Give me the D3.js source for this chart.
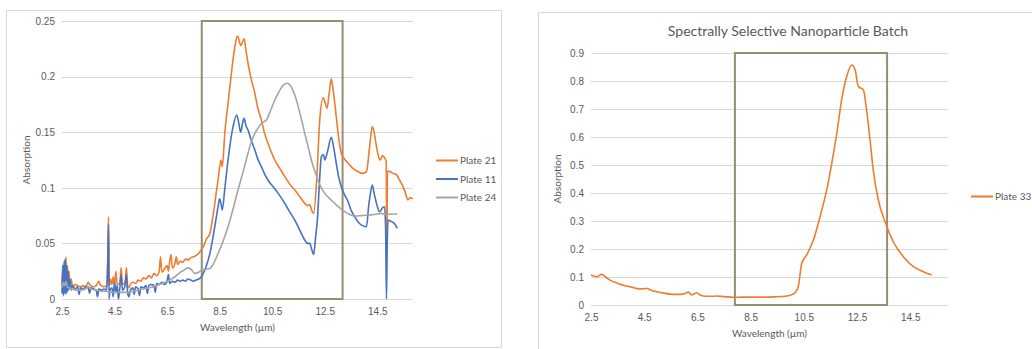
<!DOCTYPE html>
<html>
<head>
<meta charset="utf-8">
<script src="https://cdn.jsdelivr.net/npm/d3@7"></script>
<style>
  body { margin: 0; background: #fff; }
  svg { display: block; font-family: Lato, "Open Sans", sans-serif; }
  .tick text { fill: #595959; font-size: 10px; }
  .grid-line { stroke: #d9d9d9; stroke-width: 1; }
  .axis-title { fill: #595959; font-size: 10px; text-anchor: middle; }
  .chart-title { fill: #595959; font-size: 14px; text-anchor: middle; }
  .legend text { fill: #595959; font-size: 10px; }
  .series { fill: none; stroke-width: 1.6; stroke-linejoin: round; }
  .band { fill: none; stroke: #968e70; stroke-width: 2; }
</style>
</head>
<body>
<svg id="chart" width="1032" height="349"></svg>
<script>

// Data ////////////////////////////////////

const tickWavelengths = [2.5, 4.5, 6.5, 8.5, 10.5, 12.5, 14.5];
const leftYTicks = [0, 0.05, 0.1, 0.15, 0.2, 0.25];
const rightYTicks = [0, 0.1, 0.2, 0.3, 0.4, 0.5, 0.6, 0.7, 0.8, 0.9];

const leftBand = [7.82, 13.18];
const rightBand = [7.91, 13.63];

// [wavelength µm, absorption]
const plate21 = [
  [2.50, 0.012], [2.53, 0.030], [2.56, 0.008], [2.59, 0.035], [2.62, 0.010], [2.65, 0.038],
  [2.68, 0.012], [2.71, 0.030], [2.74, 0.010], [2.77, 0.025], [2.80, 0.012], [2.85, 0.018],
  [2.90, 0.011], [3.00, 0.013], [3.10, 0.012], [3.20, 0.011], [3.30, 0.012], [3.40, 0.011],
  [3.50, 0.015], [3.55, 0.013], [3.60, 0.012], [3.70, 0.011], [3.80, 0.012], [3.90, 0.016],
  [3.95, 0.013], [4.00, 0.012], [4.10, 0.011], [4.20, 0.012], [4.24, 0.035], [4.27, 0.074],
  [4.30, 0.012], [4.35, 0.018], [4.40, 0.013], [4.45, 0.020], [4.50, 0.012], [4.55, 0.025],
  [4.60, 0.013], [4.70, 0.014], [4.75, 0.028], [4.80, 0.013], [4.90, 0.015], [4.95, 0.028],
  [5.00, 0.012], [5.05, 0.010], [5.10, 0.013], [5.20, 0.015], [5.30, 0.014], [5.40, 0.017],
  [5.50, 0.016], [5.60, 0.019], [5.70, 0.018], [5.80, 0.021], [5.90, 0.019], [6.00, 0.023],
  [6.10, 0.021], [6.20, 0.025], [6.25, 0.038], [6.30, 0.024], [6.40, 0.027], [6.50, 0.030],
  [6.55, 0.025], [6.60, 0.034], [6.65, 0.040], [6.70, 0.028], [6.80, 0.032], [6.85, 0.038],
  [6.90, 0.031], [7.00, 0.034], [7.10, 0.033], [7.20, 0.036], [7.30, 0.035], [7.40, 0.037],
  [7.50, 0.038], [7.60, 0.039], [7.70, 0.041], [7.80, 0.044], [7.90, 0.048], [8.00, 0.054],
  [8.13, 0.059], [8.25, 0.075], [8.35, 0.092], [8.44, 0.107], [8.55, 0.125], [8.60, 0.119],
  [8.70, 0.150], [8.82, 0.176], [9.01, 0.215], [9.10, 0.230], [9.18, 0.2365], [9.31, 0.228],
  [9.43, 0.234], [9.50, 0.224], [9.58, 0.212], [9.70, 0.198], [9.84, 0.185], [9.95, 0.172],
  [10.09, 0.161], [10.20, 0.150], [10.34, 0.140], [10.47, 0.132], [10.60, 0.125], [10.80, 0.117],
  [10.98, 0.110], [11.15, 0.104], [11.36, 0.098], [11.55, 0.092], [11.74, 0.086], [11.85, 0.084],
  [11.93, 0.085], [12.00, 0.080], [12.08, 0.077], [12.20, 0.110], [12.31, 0.161], [12.44, 0.181],
  [12.52, 0.176], [12.59, 0.1715], [12.67, 0.185], [12.75, 0.198], [12.82, 0.188], [12.94, 0.164],
  [13.03, 0.145], [13.13, 0.131], [13.25, 0.126], [13.39, 0.122], [13.55, 0.118], [13.77, 0.1145],
  [13.95, 0.113], [14.09, 0.1145], [14.20, 0.135], [14.31, 0.155], [14.38, 0.150], [14.47, 0.137],
  [14.55, 0.128], [14.62, 0.125], [14.70, 0.129], [14.80, 0.126], [14.84, 0.124], [14.86, 0.040],
  [14.89, 0.115], [15.00, 0.1145], [15.10, 0.113], [15.23, 0.112], [15.32, 0.108], [15.42, 0.104],
  [15.55, 0.097], [15.67, 0.089], [15.75, 0.091], [15.86, 0.090]
];

const plate11 = [
  [2.50, 0.005], [2.53, 0.030], [2.55, 0.003], [2.58, 0.033], [2.60, 0.005], [2.63, 0.036],
  [2.65, 0.004], [2.68, 0.030], [2.70, 0.006], [2.73, 0.025], [2.76, 0.008], [2.80, 0.018],
  [2.85, 0.008], [2.90, 0.012], [3.00, 0.009], [3.10, 0.011], [3.15, 0.004], [3.20, 0.010],
  [3.30, 0.009], [3.40, 0.011], [3.50, 0.010], [3.55, 0.005], [3.60, 0.010], [3.70, 0.009],
  [3.80, 0.008], [3.85, 0.002], [3.90, 0.009], [4.00, 0.008], [4.10, 0.009], [4.20, 0.008],
  [4.24, 0.030], [4.27, 0.067], [4.29, 0.000], [4.32, 0.008], [4.40, 0.010], [4.45, 0.002],
  [4.50, 0.015], [4.55, 0.006], [4.60, 0.012], [4.65, 0.000], [4.70, 0.010], [4.75, 0.022],
  [4.80, 0.008], [4.90, 0.012], [4.95, 0.022], [5.00, 0.005], [5.05, 0.002], [5.10, 0.008],
  [5.20, 0.010], [5.25, 0.004], [5.30, 0.011], [5.40, 0.009], [5.45, 0.003], [5.50, 0.011],
  [5.60, 0.010], [5.70, 0.012], [5.75, 0.005], [5.80, 0.012], [5.90, 0.013], [6.00, 0.012],
  [6.05, 0.006], [6.10, 0.014], [6.20, 0.013], [6.30, 0.015], [6.40, 0.013], [6.50, 0.016],
  [6.55, 0.022], [6.60, 0.014], [6.70, 0.016], [6.80, 0.015], [6.90, 0.017], [7.00, 0.016],
  [7.10, 0.017], [7.20, 0.016], [7.30, 0.018], [7.40, 0.017], [7.50, 0.016], [7.60, 0.017],
  [7.70, 0.018], [7.81, 0.020], [7.95, 0.027], [8.05, 0.034], [8.13, 0.041], [8.25, 0.056],
  [8.35, 0.070], [8.44, 0.083], [8.50, 0.090], [8.55, 0.086], [8.60, 0.080], [8.70, 0.100],
  [8.82, 0.125], [9.01, 0.155], [9.15, 0.1655], [9.23, 0.158], [9.30, 0.150], [9.37, 0.158],
  [9.43, 0.1625], [9.50, 0.156], [9.58, 0.152], [9.70, 0.143], [9.84, 0.134], [9.95, 0.126],
  [10.09, 0.119], [10.20, 0.113], [10.34, 0.107], [10.50, 0.102], [10.73, 0.095], [10.98, 0.086],
  [11.15, 0.079], [11.36, 0.071], [11.55, 0.062], [11.74, 0.053], [11.85, 0.050], [11.93, 0.050],
  [12.00, 0.045], [12.08, 0.040], [12.15, 0.055], [12.22, 0.071], [12.30, 0.105], [12.37, 0.128],
  [12.45, 0.130], [12.50, 0.125], [12.60, 0.132], [12.75, 0.1454], [12.85, 0.135], [12.94, 0.122],
  [13.03, 0.110], [13.13, 0.101], [13.25, 0.094], [13.39, 0.0875], [13.50, 0.080], [13.64, 0.074],
  [13.78, 0.069], [13.90, 0.0665], [14.09, 0.065], [14.17, 0.083], [14.24, 0.095], [14.31, 0.1025],
  [14.38, 0.095], [14.47, 0.086], [14.59, 0.0785], [14.70, 0.082], [14.78, 0.083], [14.82, 0.060],
  [14.85, 0.000], [14.88, 0.050], [14.91, 0.071], [15.00, 0.070], [15.10, 0.069], [15.18, 0.067],
  [15.26, 0.0635]
];

const plate24 = [
  [2.50, 0.010], [2.55, 0.015], [2.60, 0.012], [2.65, 0.016], [2.70, 0.011], [2.80, 0.010],
  [2.90, 0.009], [3.00, 0.008], [3.20, 0.008], [3.40, 0.009], [3.50, 0.011], [3.60, 0.009],
  [3.80, 0.008], [4.00, 0.007], [4.20, 0.007], [4.40, 0.006], [4.60, 0.006], [4.80, 0.006],
  [5.00, 0.006], [5.20, 0.007], [5.40, 0.008], [5.60, 0.009], [5.80, 0.010], [6.00, 0.011],
  [6.20, 0.013], [6.40, 0.015], [6.60, 0.017], [6.80, 0.020], [7.00, 0.024], [7.15, 0.026],
  [7.30, 0.028], [7.40, 0.027], [7.56, 0.023], [7.70, 0.024], [7.81, 0.026], [8.00, 0.027],
  [8.13, 0.0275], [8.25, 0.031], [8.44, 0.041], [8.60, 0.050], [8.82, 0.065], [9.00, 0.080],
  [9.20, 0.098], [9.40, 0.115], [9.58, 0.131], [9.70, 0.141], [9.84, 0.149], [10.00, 0.155],
  [10.09, 0.158], [10.28, 0.161], [10.45, 0.170], [10.60, 0.179], [10.75, 0.186], [10.88, 0.191],
  [11.00, 0.1935], [11.07, 0.194], [11.15, 0.193], [11.26, 0.1895], [11.38, 0.182], [11.49, 0.173],
  [11.62, 0.161], [11.74, 0.149], [11.87, 0.137], [11.99, 0.125], [12.12, 0.115], [12.24, 0.107],
  [12.37, 0.100], [12.50, 0.095], [12.70, 0.090], [12.88, 0.086], [13.07, 0.082], [13.26, 0.0785],
  [13.45, 0.076], [13.64, 0.0746], [13.90, 0.075], [14.14, 0.0755], [14.40, 0.076], [14.66, 0.077],
  [14.85, 0.076], [15.04, 0.0764], [15.26, 0.0764]
];

const plate33 = [
  [2.50, 0.107], [2.71, 0.101], [2.90, 0.1095], [3.05, 0.100], [3.21, 0.089], [3.40, 0.081],
  [3.59, 0.074], [3.78, 0.069], [3.97, 0.065], [4.15, 0.061], [4.34, 0.057], [4.45, 0.058],
  [4.60, 0.059], [4.78, 0.052], [4.97, 0.0476], [5.20, 0.043], [5.47, 0.039], [5.75, 0.038],
  [5.97, 0.039], [6.16, 0.046], [6.28, 0.036], [6.38, 0.040], [6.47, 0.044], [6.60, 0.036],
  [6.72, 0.032], [7.00, 0.031], [7.22, 0.032], [7.50, 0.030], [7.85, 0.0275], [8.20, 0.028],
  [8.60, 0.028], [9.00, 0.028], [9.40, 0.029], [9.86, 0.032], [10.05, 0.037], [10.17, 0.044],
  [10.29, 0.065], [10.36, 0.110], [10.42, 0.149], [10.61, 0.179], [10.86, 0.232], [11.11, 0.315],
  [11.36, 0.411], [11.55, 0.506], [11.74, 0.613], [11.92, 0.732], [12.11, 0.815], [12.30, 0.857],
  [12.43, 0.839], [12.55, 0.780], [12.74, 0.768], [12.86, 0.696], [12.99, 0.589], [13.11, 0.482],
  [13.30, 0.375], [13.55, 0.298], [13.86, 0.226], [14.24, 0.1726], [14.62, 0.137], [14.99, 0.119],
  [15.31, 0.107]
];

const leftSeries = [
  { name: "Plate 21", color: "#ed7d31", values: plate21 },
  { name: "Plate 11", color: "#4472c4", values: plate11 },
  { name: "Plate 24", color: "#a5a5a5", values: plate24 }
];
const rightSeries = [
  { name: "Plate 33", color: "#ed7d31", values: plate33 }
];

// Layout ////////////////////////////////////

const svg = d3.select("#chart");

// panel frames
svg.append("rect")
  .attr("x", 6.5).attr("y", 10.5).attr("width", 495).attr("height", 337)
  .attr("fill", "#fff").attr("stroke", "#d9d9d9");
svg.append("rect")
  .attr("x", 538.5).attr("y", 12.5).attr("width", 600).attr("height", 400)
  .attr("fill", "#fff").attr("stroke", "#d9d9d9");

function drawPanel(cfg) {

  const x = d3.scaleLinear().domain(cfg.xDomain).range(cfg.xRange);
  const y = d3.scaleLinear().domain(cfg.yDomain).range(cfg.yRange);
  const g = svg.append("g");

  // grid lines
  g.append("g")
    .selectAll("line")
    .data(cfg.yTicks)
    .join("line")
    .attr("class", "grid-line")
    .attr("x1", cfg.xRange[0]).attr("x2", cfg.xRange[1])
    .attr("y1", d => Math.round(y(d)) + 0.5)
    .attr("y2", d => Math.round(y(d)) + 0.5);

  // y axis
  g.append("g")
    .attr("transform", `translate(${ cfg.xRange[0] }, 0)`)
    .call(d3.axisLeft(y).tickValues(cfg.yTicks).tickFormat(d3.format("~g")).tickSize(0).tickPadding(7))
    .call(a => a.select(".domain").remove())
    .selectAll("text").style("font-family", null);

  // x axis
  g.append("g")
    .attr("transform", `translate(0, ${ cfg.yRange[0] })`)
    .call(d3.axisBottom(x).tickValues(tickWavelengths).tickFormat(d3.format(".1f")).tickSize(0).tickPadding(9))
    .call(a => a.select(".domain").remove())
    .selectAll("text").style("font-family", null);

  // axis titles
  g.append("text")
    .attr("class", "axis-title")
    .attr("transform", `translate(${ cfg.yTitleX }, ${ (cfg.yRange[0] + cfg.yRange[1]) / 2 }) rotate(-90)`)
    .text("Absorption");
  g.append("text")
    .attr("class", "axis-title")
    .attr("x", (cfg.xRange[0] + cfg.xRange[1]) / 2)
    .attr("y", cfg.xTitleY)
    .text("Wavelength (µm)");

  if (cfg.title) {
    g.append("text")
      .attr("class", "chart-title")
      .attr("x", cfg.titlePos[0]).attr("y", cfg.titlePos[1])
      .text(cfg.title);
  }

  // highlighted band
  g.append("rect")
    .attr("class", "band")
    .attr("x", x(cfg.band[0]))
    .attr("y", y(cfg.yDomain[1]))
    .attr("width", x(cfg.band[1]) - x(cfg.band[0]))
    .attr("height", y(0) - y(cfg.yDomain[1]));

  // series, drawn in legend order
  const line = d3.line()
    .curve(d3.curveMonotoneX)
    .x(d => x(d[0]))
    .y(d => y(d[1]));

  g.append("g")
    .selectAll("path")
    .data(cfg.series)
    .join("path")
    .attr("class", "series")
    .attr("stroke", d => d.color)
    .attr("d", d => line(d.values));

  // legend
  const legend = g.append("g")
    .attr("class", "legend")
    .selectAll("g")
    .data(cfg.series)
    .join("g")
    .attr("transform", (d, i) => `translate(${ cfg.legendPos[0] }, ${ cfg.legendPos[1] + i * 18.5 })`);
  legend.append("line")
    .attr("x1", 0).attr("x2", 22)
    .attr("stroke", d => d.color).attr("stroke-width", 2);
  legend.append("text")
    .attr("x", 24).attr("dy", "0.35em")
    .text(d => d.name);
}

drawPanel({
  xDomain: [2.5, 15.86], xRange: [62, 413],
  yDomain: [0, 0.25], yRange: [299, 21],
  yTicks: leftYTicks,
  band: leftBand,
  series: leftSeries,
  yTitleX: 30, xTitleY: 331,
  legendPos: [436, 160.5]
});

drawPanel({
  xDomain: [2.5, 15.92], xRange: [591, 948],
  yDomain: [0, 0.9], yRange: [305, 53],
  yTicks: rightYTicks,
  band: rightBand,
  series: rightSeries,
  yTitleX: 561, xTitleY: 337,
  title: "Spectrally Selective Nanoparticle Batch",
  titlePos: [788, 36],
  legendPos: [971, 196.5]
});

</script>
</body>
</html>
